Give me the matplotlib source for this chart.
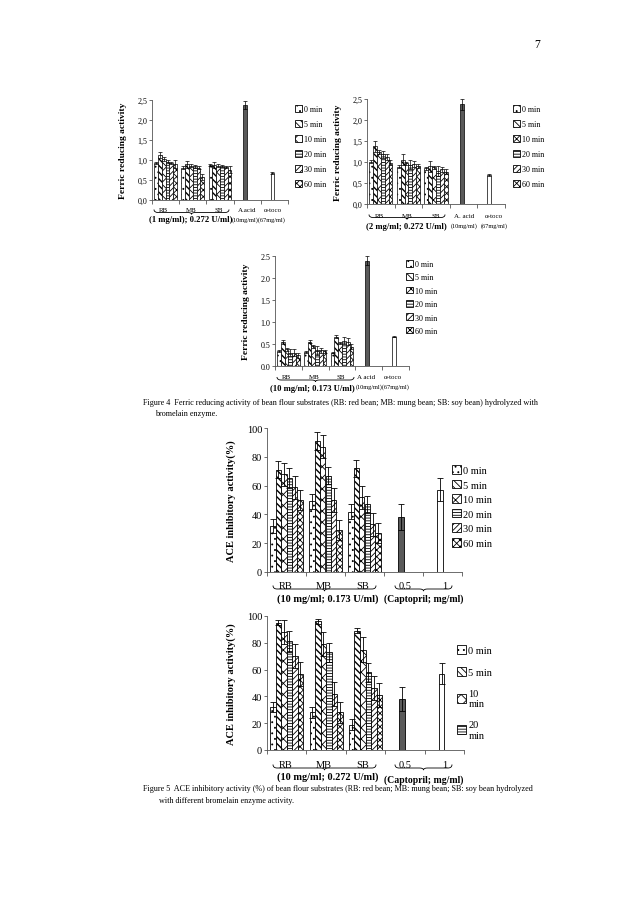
import numpy as np
import matplotlib
matplotlib.use('Agg')
import matplotlib.pyplot as plt
from matplotlib.patches import Patch, PathPatch
from matplotlib.path import Path

plt.rcParams['font.family'] = ['Liberation Serif', 'DejaVu Serif']
plt.rcParams['hatch.linewidth'] = 0.6

W, H = 638, 903

# ---- data ----
times = ['0 min', '5 min', '10 min', '20 min', '30 min', '60 min']
beans = ['RB', 'MB', 'SB']

# Figure 4: ferric reducing activity (1 mg/ml; 0.272 U/ml)
frap1 = [[0.93, 1.12, 1.02, 0.96, 0.93, 0.91],
         [0.81, 0.89, 0.86, 0.84, 0.81, 0.58],
         [0.87, 0.87, 0.86, 0.85, 0.83, 0.76]]
frap1_err = [[0.03, 0.07, 0.05, 0.03, 0.03, 0.10],
             [0.03, 0.08, 0.03, 0.03, 0.03, 0.08],
             [0.03, 0.08, 0.03, 0.03, 0.03, 0.08]]
# (2 mg/ml; 0.272 U/ml)
frap2 = [[1.01, 1.38, 1.24, 1.18, 1.12, 0.98],
         [0.89, 1.05, 0.97, 0.94, 0.95, 0.91],
         [0.85, 0.90, 0.87, 0.79, 0.83, 0.77]]
frap2_err = [[0.04, 0.13, 0.05, 0.08, 0.07, 0.06],
             [0.03, 0.13, 0.04, 0.10, 0.07, 0.05],
             [0.03, 0.13, 0.03, 0.12, 0.06, 0.06]]
# (10 mg/ml; 0.173 U/ml)
frap3 = [[0.34, 0.55, 0.38, 0.30, 0.30, 0.24],
         [0.31, 0.55, 0.45, 0.36, 0.36, 0.33],
         [0.30, 0.67, 0.52, 0.57, 0.55, 0.44]]
frap3_err = [[0.02, 0.04, 0.03, 0.08, 0.08, 0.06],
             [0.02, 0.03, 0.03, 0.10, 0.06, 0.04],
             [0.01, 0.04, 0.02, 0.08, 0.08, 0.06]]
frap_ctrl = [[2.37, 0.67], [2.37, 0.69], [2.39, 0.67]]   # A.acid, a-toco
frap_ctrl_err = [[0.10, 0.03], [0.12, 0.03], [0.10, 0.02]]

# Figure 5: ACE inhibitory activity (%)
ace1 = [[32, 71, 68, 65, 59, 50],
        [49, 91, 87, 67, 50, 29],
        [42, 72, 52, 47, 33, 27]]
ace1_err = [[5, 6, 8, 7, 8, 7],
            [5, 6, 8, 6, 8, 7],
            [5, 6, 8, 6, 8, 7]]
ace2 = [[32, 95, 88, 81, 70, 57],
        [28, 96, 79, 73, 42, 28],
        [19, 89, 75, 58, 46, 41]]
ace2_err = [[4, 2, 9, 8, 9, 9],
            [4, 2, 9, 7, 9, 8],
            [4, 2, 9, 7, 9, 9]]
capto = [38, 57]          # captopril 0.5, 1 mg/ml
capto_err = [9, 8]

hatches = ['...', '\\\\\\\\\\', 'xxx', '------', '//////', 'xxxxx']
ctrl_colors = ['#5a5a5a', 'white']


def px_axes(x0, y0, x1, y1):
    return fig.add_axes([x0 / W, 1 - y1 / H, (x1 - x0) / W, (y1 - y0) / H])


def ftext(x, y, s, **kw):
    kw.setdefault('ha', 'center')
    kw.setdefault('va', 'center')
    fig.text(x / W, 1 - y / H, s, **kw)


def brace(x0, x1, y, h=3.0, lw=0.6):
    # curly brace under labels, ends curl upwards (pixel coords)
    xm = (x0 + x1) / 2
    r = 4
    pts = [(x0, y - h), (x0, y), (x0 + r, y),
           (xm - r, y), (xm, y), (xm, y + h * 0.6),
           (xm, y), (xm + r, y),
           (x1 - r, y), (x1, y), (x1, y - h)]
    codes = [Path.MOVETO, Path.CURVE3, Path.CURVE3,
             Path.LINETO, Path.CURVE3, Path.CURVE3,
             Path.CURVE3, Path.CURVE3,
             Path.LINETO, Path.CURVE3, Path.CURVE3]
    verts = [(px / W, 1 - py / H) for px, py in pts]
    fig.add_artist(PathPatch(Path(verts, codes), transform=fig.transFigure,
                             fill=False, lw=lw, color='black'))


def draw_bars(ax, vals, errs, ctrl, ctrl_err, w, lw, cap):
    vals = np.array(vals)
    errs = np.array(errs)
    x = np.arange(len(beans))
    for i in range(len(times)):
        xi = x + (i - 2.5) * w
        bars = ax.bar(xi, vals[:, i], w, color='white', edgecolor='black',
                      hatch=hatches[i], linewidth=lw, zorder=2)
        if i == 1 and hasattr(bars[0], 'set_hatch_linewidth'):
            for b in bars:
                b.set_hatch_linewidth(1.0)
        ax.errorbar(xi, vals[:, i], yerr=errs[:, i], fmt='none',
                    ecolor='black', elinewidth=lw, capsize=cap, capthick=lw, zorder=3)
    xc = np.arange(len(beans), len(beans) + 2) - 0.5 * w
    ax.bar(xc, ctrl, w, color=ctrl_colors, edgecolor='black', linewidth=lw, zorder=2)
    ax.errorbar(xc, ctrl, yerr=ctrl_err, fmt='none', ecolor='black',
                elinewidth=lw, capsize=cap, capthick=lw, zorder=3)
    ax.set_xlim(-0.5, 4.5)
    ax.set_xticks(np.arange(-0.5, 4.6, 1))
    ax.set_xticklabels([])
    for s in ['top', 'right']:
        ax.spines[s].set_visible(False)
    for s in ['left', 'bottom']:
        ax.spines[s].set_linewidth(0.6)
        ax.spines[s].set_color('#555555')
    ax.tick_params(axis='x', length=3, width=0.6, color='#555555')
    ax.tick_params(axis='y', length=2, width=0.6, color='#555555', pad=1.5)


def legend(ax, x, y, fs, ls, n=6, labels=None):
    handles = [Patch(facecolor='white', edgecolor='black', hatch=hatches[i], linewidth=0.6)
               for i in range(n)]
    ax.legend(handles, labels or times[:n], loc='upper left',
              bbox_to_anchor=(x / W, 1 - y / H), bbox_transform=fig.transFigure,
              frameon=False, fontsize=fs, handlelength=0.9, handleheight=0.9,
              handletextpad=0.2, labelspacing=ls, borderpad=0, borderaxespad=0)


fig = plt.figure(figsize=(W / 100, H / 100), dpi=100)
ftext(537, 45, '7', fontsize=8.5)

# ---------------- Figure 4 ----------------
frap_sets = [(frap1, frap1_err, (152, 101, 288, 201), ','),
             (frap2, frap2_err, (367, 100, 505, 205), ','),
             (frap3, frap3_err, (275, 257, 409, 367), '.')]
frap_axes = []
for k, (v, e, box, sep) in enumerate(frap_sets):
    ax = px_axes(*box)
    draw_bars(ax, v, e, frap_ctrl[k], frap_ctrl_err[k], 0.14, 0.5, 1.2)
    ax.set_ylim(0, 2.5)
    yt = np.arange(0, 2.51, 0.5)
    ax.set_yticks(yt)
    ax.set_yticklabels([f'{t:.1f}'.replace('.', sep) for t in yt], fontsize=5.8)
    ax.set_ylabel('Ferric reducing activity', fontsize=6.8, fontweight='bold')
    ax.yaxis.set_label_coords(-25 / (box[2] - box[0]), 0.5)
    frap_axes.append(ax)

legend(frap_axes[0], 295, 106, 5.8, 0.85)
legend(frap_axes[1], 513, 106, 5.8, 0.85)
legend(frap_axes[2], 406, 261, 5.8, 0.65)

# chart 1 labels
for lab, xp in zip(beans + ['A.acid', 'α-toco'], [163, 191, 219, 247, 273]):
    ftext(xp, 210, lab, fontsize=5)
brace(154, 229, 213.5)
ftext(191, 220.5, '(1 mg/ml); 0.272 U/ml)', fontsize=6.2, fontweight='bold')
ftext(232, 220.5, '(10mg/ml)(67mg/ml)', fontsize=4.6, ha='left')

# chart 2 labels
for lab, xp in zip(beans + ['A. acid', 'α-toco'], [379, 407.5, 436, 464, 494]):
    ftext(xp, 216, lab, fontsize=5)
ftext(464, 226, '(10mg/ml)', fontsize=4.6)
ftext(494, 226, '(67mg/ml)', fontsize=4.6)
brace(369, 445, 218.5)
ftext(406, 227, '(2 mg/ml; 0.272 U/ml)', fontsize=6.2, fontweight='bold')

# chart 3 labels
for lab, xp in zip(beans + ['A acid', 'α-toco'], [286, 314, 340.5, 366, 393]):
    ftext(xp, 377.5, lab, fontsize=5)
brace(277, 354, 381)
ftext(312, 389, '(10 mg/ml; 0.173 U/ml)', fontsize=6.2, fontweight='bold')
ftext(356, 387.5, '(10mg/ml)(67mg/ml)', fontsize=4.6, ha='left')

ftext(143, 403, 'Figure 4  Ferric reducing activity of bean flour substrates (RB: red bean; '
      'MB: mung bean; SB: soy bean) hydrolyzed with', fontsize=5.85, ha='left')
ftext(155, 414, 'bromelain enzyme.', fontsize=5.85, ha='left')

# ---------------- Figure 5 ----------------
ace_sets = [(ace1, ace1_err, (267, 429, 462, 573)),
            (ace2, ace2_err, (267, 617, 464, 751))]
ace_axes = []
for v, e, box in ace_sets:
    ax = px_axes(*box)
    draw_bars(ax, v, e, capto, capto_err, 0.14, 0.6, 2.0)
    ax.set_ylim(0, 100)
    ax.set_yticks(np.arange(0, 101, 20))
    ax.tick_params(axis='y', labelsize=7.5)
    ax.set_ylabel('ACE inhibitory activity(%)', fontsize=7.5, fontweight='bold')
    ax.yaxis.set_label_coords(-31 / (box[2] - box[0]), 0.5)
    ace_axes.append(ax)

legend(ace_axes[0], 452, 466, 7.5, 0.45)
legend(ace_axes[1], 457, 646, 7.5, 1.15, n=4,
       labels=['0 min', '5 min', '10\nmin', '20\nmin'])

for y_lab, y_br, y_bold, y_cap, txt in [(587, 590, 599, 599, '(10 mg/ml; 0.173 U/ml)'),
                                         (766, 769, 777, 780, '(10 mg/ml; 0.272 U/ml)')]:
    for lab, xp in zip(beans + ['0.5', '1'], [286, 324, 363, 405, 445]):
        ftext(xp, y_lab, lab, fontsize=7.5)
    brace(273, 376, y_br, h=3.5)
    brace(395, 452, y_br, h=3.5)
    ftext(328, y_bold, txt, fontsize=7.4, fontweight='bold')
    ftext(424, y_cap, '(Captopril; mg/ml)', fontsize=7, fontweight='bold')

ftext(143, 789, 'Figure 5  ACE inhibitory activity (%) of bean flour substrates (RB: red bean; '
      'MB: mung bean; SB: soy bean hydrolyzed', fontsize=5.85, ha='left')
ftext(159, 801, 'with different bromelain enzyme activity.', fontsize=5.85, ha='left')

fig.savefig('out.png', dpi=100)
